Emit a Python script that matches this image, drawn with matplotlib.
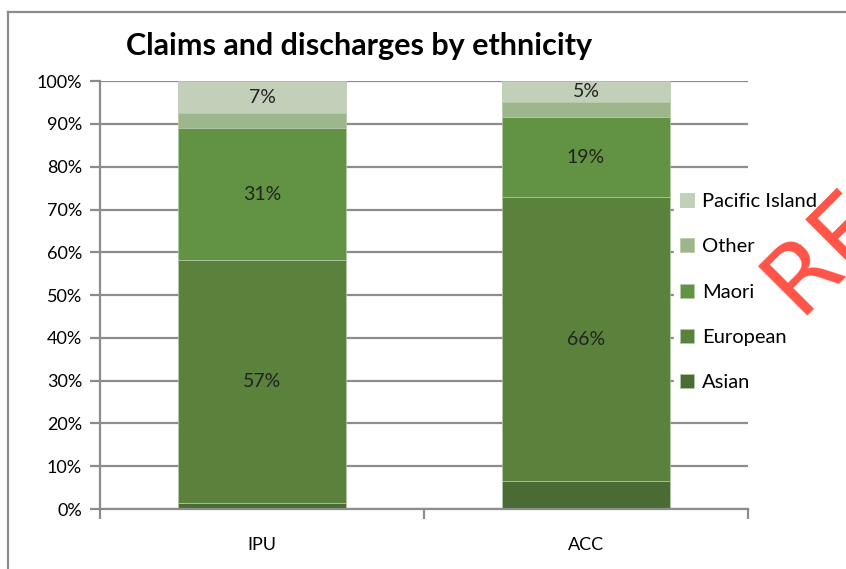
import numpy as np
import matplotlib
matplotlib.use('Agg')
import matplotlib.pyplot as plt
from matplotlib.lines import Line2D
from matplotlib.ticker import PercentFormatter

plt.rcParams['font.family'] = ['Lato', 'DejaVu Sans']

# данные
categories = ['IPU', 'ACC']
series = ['Asian', 'European', 'Maori', 'Other', 'Pacific Island']
asian = [1.4, 6.5]
european = [56.8, 66.4]
maori = [30.8, 18.7]
other = [3.5, 3.5]
pacific = [7.5, 4.9]
values = [asian, european, maori, other, pacific]
# подписи только для некоторых сегментов
labels = {'European': ['57%', '66%'], 'Maori': ['31%', '19%'], 'Pacific Island': ['7%', '5%']}

colors = ['#4a6c34', '#5a823c', '#629342', '#9db68b', '#c3d0b9']

fig = plt.figure(figsize=(8.46, 5.69), dpi=100)
ax = fig.add_axes([0.1182, 0.1054, 0.766, 0.752])

x = np.arange(len(categories))
bottom = np.zeros(len(categories))
handles = []
for name, vals, c in zip(series, values, colors):
    bars = ax.bar(x, vals, width=0.52, bottom=bottom, color=c,
                  edgecolor='#b5c9a8', linewidth=0.5, zorder=2, label=name)
    if name in labels:
        for i, b in enumerate(bars):
            ax.text(b.get_x() + b.get_width() / 2, bottom[i] + vals[i] / 2, labels[name][i],
                    ha='center', va='center', fontsize=14, color='#222222', zorder=3)
    bottom += np.array(vals)
    handles.append(bars)

ax.set_xlim(-0.5, 1.5)
ax.set_ylim(0, 100)
ax.set_yticks(np.arange(0, 101, 10))
ax.yaxis.set_major_formatter(PercentFormatter(decimals=0))
ax.grid(axis='y', color='#8c8c8c', linewidth=1.6, zorder=0)
ax.set_axisbelow(True)

ax.set_xticks(x)
ax.set_xticklabels(categories, fontsize=13)
ax.set_xticks([-0.5, 0.5, 1.5], minor=True)
ax.tick_params(axis='x', which='major', length=0, pad=20)
ax.tick_params(axis='x', which='minor', length=7, width=1.6, color='#8c8c8c')
ax.tick_params(axis='y', length=7, width=1.6, color='#8c8c8c', labelsize=13, pad=6)

for s in ['top', 'right']:
    ax.spines[s].set_visible(False)
for s in ['left', 'bottom']:
    ax.spines[s].set_color('#8c8c8c')
    ax.spines[s].set_linewidth(1.6)

leg = ax.legend(handles[::-1], series[::-1], loc='center left', bbox_to_anchor=(0.885, 0.507),
                frameon=True, fontsize=14.5, handlelength=0.7, handleheight=0.7,
                handletextpad=0.4, labelspacing=1.4, borderaxespad=0, borderpad=0.3)
leg.get_frame().set_edgecolor('white')
leg.get_frame().set_facecolor('white')
leg.get_frame().set_alpha(1)
leg.set_zorder(4)

fig.text(0.425, 0.92, 'Claims and discharges by ethnicity', ha='center', va='center',
         fontsize=22, fontweight='bold')

# рамка вокруг графика
fig.add_artist(Line2D([0.0095, 1.0], [0.979, 0.979], color='#8c8c8c', linewidth=1.6))
fig.add_artist(Line2D([0.0095, 0.0095], [0.0, 0.979], color='#8c8c8c', linewidth=1.6))

# водяной знак
fig.text(0.883, 0.42, 'RE', rotation=45, fontsize=70, color='#ff4a3d',
         family='DejaVu Sans', ha='left', va='bottom', alpha=0.95)

fig.savefig('out.png', dpi=100)
